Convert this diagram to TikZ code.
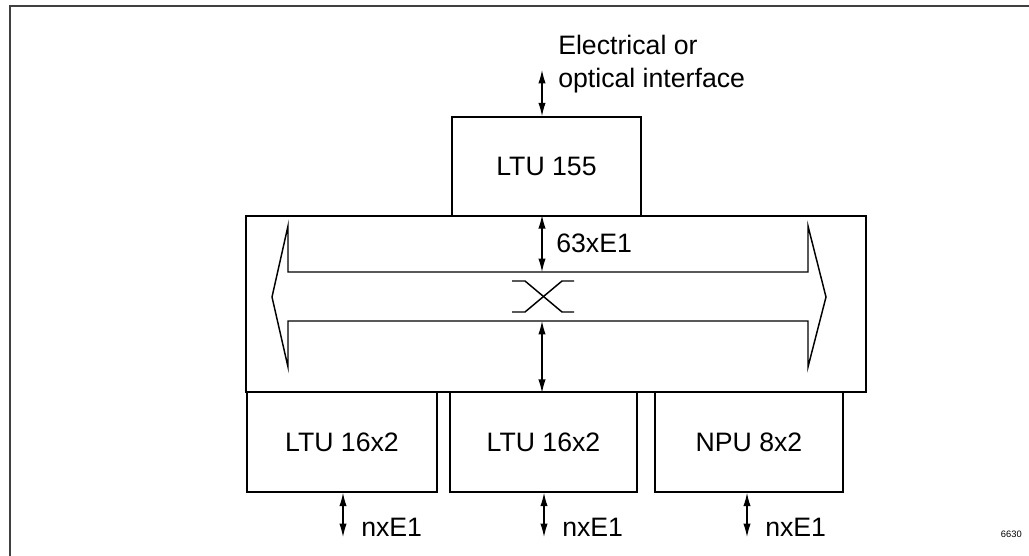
\documentclass[tikz,border=0pt]{standalone}
\usepackage{fontspec}
\setmainfont{Liberation Sans}
\usetikzlibrary{arrows.meta}
\begin{document}
\begin{tikzpicture}[x=0.75pt,y=-0.75pt,
  box/.style={draw, line width=1.2pt, inner sep=0pt, font=\fontsize{20}{24}\selectfont},
  lbl/.style={inner sep=0pt, font=\fontsize{20}{24}\selectfont},
  dar/.style={{Latex[length=10pt,width=5.5pt]}-{Latex[length=10pt,width=5.5pt]}, line width=0.9pt},
  ln/.style={line width=1.1pt}]
\useasboundingbox (0,0) rectangle (1029,556);
\draw[line width=1.6pt, black!75] (10,556) -- (10,6) -- (1029,6);
% boxes
\node[box, minimum width=141.75pt, minimum height=74.25pt] (ltu155) at (546.5,166.5) {LTU 155};
\node[box, minimum width=465pt, minimum height=132pt] (switch) at (556,304) {};
\node[box, minimum width=142.5pt, minimum height=75pt] (b1) at (342,442) {LTU 16x2};
\node[box, minimum width=140.25pt, minimum height=75pt] (b2) at (543.5,442) {LTU 16x2};
\node[box, minimum width=141pt, minimum height=75pt] (b3) at (749,442) {NPU 8x2};
% bus shape
\draw[ln] (288,272) -- (288,226) -- (272,297) -- (288,367) -- (288,321) -- (808,321)
  -- (808,367) -- (826,297) -- (808,226) -- (808,272) -- cycle;
% cross symbol
\draw[ln] (512,281) -- (525,281) -- (562,312) -- (574,312);
\draw[ln] (512,312) -- (525,312) -- (562,281) -- (574,281);
% coordinates
\coordinate (top) at (542,70);
\coordinate (busup) at (542,272);
\coordinate (buslo) at (542,321);
\coordinate (n1) at (343,537);
\coordinate (n2) at (544,537);
\coordinate (n3) at (747,537);
% arrows
\draw[dar] (top) -- (ltu155.north -| top);
\draw[dar] (switch.north -| busup) -- (busup);
\draw[dar] (buslo) -- (switch.south -| buslo);
\draw[dar] (b1.south -| n1) -- (n1);
\draw[dar] (b2.south -| n2) -- (n2);
\draw[dar] (b3.south -| n3) -- (n3);
% labels
\node[lbl, anchor=base west] (if1) at (558,55) {Electrical or};
\node[lbl, anchor=base west] (if2) at (558,88) {optical interface};
\node[lbl, anchor=west] (l63) at (556,243) {63xE1};
\node[lbl, anchor=west] (nx1) at (361,527) {nxE1};
\node[lbl, anchor=west] (nx2) at (562,527) {nxE1};
\node[lbl, anchor=west] (nx3) at (765,527) {nxE1};
\node[inner sep=0pt, anchor=base east, font=\fontsize{7}{8}\selectfont] (fig) at (1022,537) {6630};
\end{tikzpicture}
\end{document}
